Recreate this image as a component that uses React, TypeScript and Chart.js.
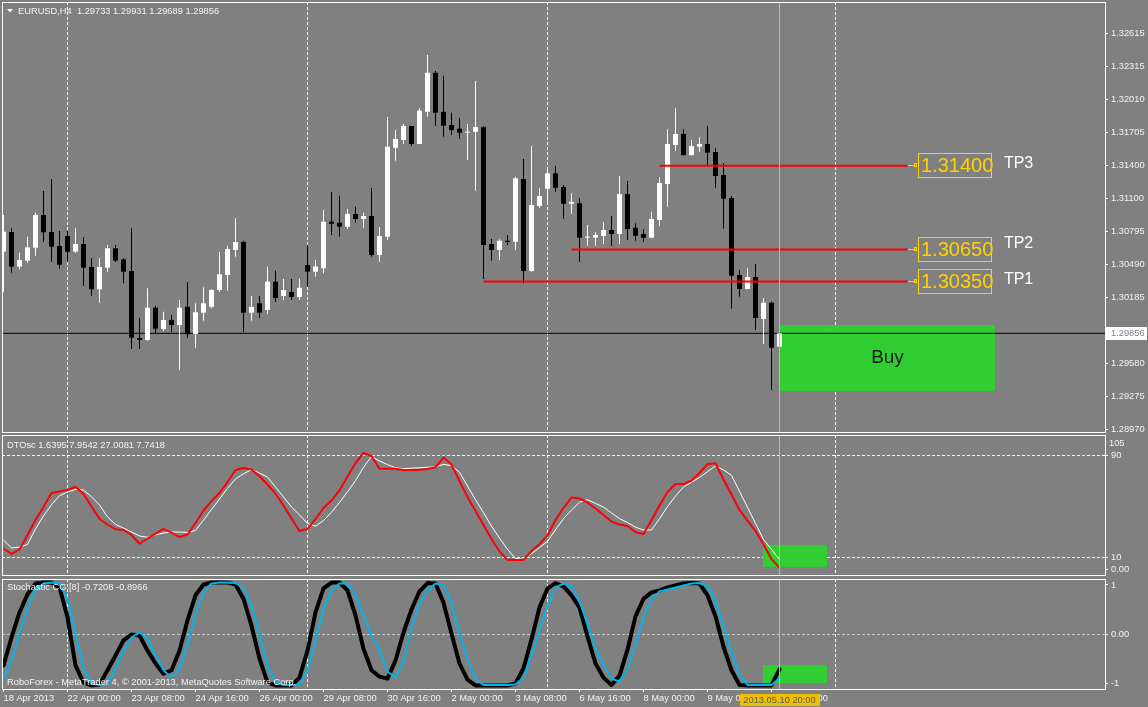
import { useEffect, useRef } from 'react';
import { Chart, registerables } from 'chart.js';

Chart.register(...registerables);

// ---------------- data ----------------
const OPEN = [
  1.30608, 1.30789, 1.30470, 1.30525, 1.30645, 1.30946, 1.30789, 1.30660, 1.30752, 1.30608,
  1.30679, 1.30467, 1.30262, 1.30461, 1.30639, 1.30538, 1.30430, 1.29813, 1.29795, 1.30092,
  1.29896, 1.29979, 1.29933, 1.30101, 1.29850, 1.30046, 1.30101, 1.30255, 1.30393, 1.30624,
  1.30697, 1.30046, 1.30133, 1.30071, 1.30332, 1.30200, 1.30237, 1.30191, 1.30485, 1.30424,
  1.30455, 1.30884, 1.30875, 1.30838, 1.30955, 1.30909, 1.30937, 1.30577, 1.30746, 1.31566,
  1.31637, 1.31766, 1.31600, 1.31897, 1.32256, 1.31897, 1.31775, 1.31741, 1.31704, 1.31713,
  1.31756, 1.30679, 1.30624, 1.30709, 1.30700, 1.31277, 1.30430, 1.31029, 1.31188, 1.31330,
  1.31204, 1.31050, 1.31054, 1.30737, 1.30737, 1.30752, 1.30808, 1.30771, 1.31139, 1.30829,
  1.30771, 1.30737, 1.30900, 1.31231, 1.31591, 1.31692, 1.31498, 1.31575, 1.31600, 1.31526,
  1.31314, 1.31102, 1.30393, 1.30264, 1.30375, 1.29988, 1.30138, 1.29733,
];
const HIGH = [
  1.30946, 1.30823, 1.30599, 1.30746, 1.30967, 1.31167, 1.31277, 1.30798, 1.30798, 1.30823,
  1.30741, 1.30547, 1.30547, 1.30670, 1.30670, 1.30547, 1.30823, 1.29997, 1.30271, 1.30108,
  1.30055, 1.30025, 1.30163, 1.30326, 1.30133, 1.30280, 1.30262, 1.30605, 1.30663, 1.30916,
  1.30709, 1.30200, 1.30200, 1.30470, 1.30433, 1.30356, 1.30356, 1.30359, 1.30670, 1.30531,
  1.30992, 1.31158, 1.31124, 1.31001, 1.31022, 1.30967, 1.31195, 1.30835, 1.31848, 1.31729,
  1.31784, 1.31766, 1.31929, 1.32419, 1.32272, 1.32229, 1.31888, 1.31839, 1.31784, 1.32180,
  1.31766, 1.30725, 1.30722, 1.30762, 1.31299, 1.31462, 1.31581, 1.31192, 1.31360, 1.31397,
  1.31222, 1.31146, 1.31100, 1.30854, 1.30786, 1.30879, 1.30937, 1.31305, 1.31259, 1.30869,
  1.30814, 1.30976, 1.31293, 1.31735, 1.31929, 1.31735, 1.31637, 1.31662, 1.31766, 1.31560,
  1.31422, 1.31121, 1.30439, 1.30455, 1.30495, 1.30181, 1.30147, 1.29931,
];
const LOW = [
  1.30239, 1.30414, 1.30446, 1.30506, 1.30571, 1.30700, 1.30516, 1.30451, 1.30516, 1.30599,
  1.30295, 1.30203, 1.30138, 1.30424, 1.30513, 1.30317, 1.29712, 1.29712, 1.29788, 1.29850,
  1.29878, 1.29871, 1.29518, 1.29816, 1.29724, 1.29972, 1.30087, 1.30239, 1.30249, 1.30562,
  1.29871, 1.29972, 1.29997, 1.30034, 1.30145, 1.30163, 1.30163, 1.30163, 1.30286, 1.30378,
  1.30409, 1.30762, 1.30746, 1.30817, 1.30875, 1.30829, 1.30562, 1.30516, 1.30716, 1.31446,
  1.31600, 1.31584, 1.31600, 1.31851, 1.31768, 1.31667, 1.31683, 1.31649, 1.31452, 1.31170,
  1.30356, 1.30525, 1.30531, 1.30670, 1.30624, 1.30317, 1.30424, 1.31013, 1.31054, 1.31160,
  1.30912, 1.30958, 1.30516, 1.30663, 1.30663, 1.30679, 1.30663, 1.30679, 1.30716, 1.30709,
  1.30700, 1.30737, 1.30845, 1.31022, 1.31535, 1.31492, 1.31492, 1.31529, 1.31397, 1.31197,
  1.30820, 1.30083, 1.30193, 1.30262, 1.29887, 1.29758, 1.29334, 1.29689,
];
const CLOSE = [
  1.30792, 1.30470, 1.30531, 1.30648, 1.30946, 1.30786, 1.30654, 1.30488, 1.30608, 1.30679,
  1.30461, 1.30262, 1.30467, 1.30639, 1.30525, 1.30424, 1.29816, 1.29795, 1.30092, 1.29899,
  1.29979, 1.29933, 1.30092, 1.29847, 1.30050, 1.30133, 1.30255, 1.30400, 1.30633, 1.30697,
  1.30046, 1.30099, 1.30046, 1.30332, 1.30181, 1.30255, 1.30191, 1.30276, 1.30424, 1.30470,
  1.30884, 1.30866, 1.30838, 1.30955, 1.30909, 1.30937, 1.30577, 1.30752, 1.31575, 1.31646,
  1.31766, 1.31600, 1.31907, 1.32256, 1.31888, 1.31768, 1.31729, 1.31704, 1.31713, 1.31756,
  1.30670, 1.30624, 1.30709, 1.30697, 1.31284, 1.30430, 1.31038, 1.31121, 1.31330, 1.31197,
  1.31050, 1.31066, 1.30737, 1.30746, 1.30762, 1.30808, 1.30771, 1.31139, 1.30817, 1.30755,
  1.30737, 1.30909, 1.31241, 1.31600, 1.31692, 1.31498, 1.31581, 1.31600, 1.31520, 1.31305,
  1.31096, 1.30387, 1.30264, 1.30375, 1.29997, 1.30138, 1.29724, 1.29856,
];

const DTO_MAIN = [
  16.7, 12.4, 15.9, 27.3, 39, 49.2, 60.2, 61.4, 62.5, 65.1,
  59.4, 49.6, 39.8, 35.5, 31.7, 31.2, 27.3, 20.4, 24.5, 28.4,
  32.1, 29.2, 25.7, 27.6, 36.7, 46.5, 53.9, 60.2, 68.8, 78.2,
  79.8, 78.6, 73.5, 66.9, 59.8, 50.4, 40.2, 30.4, 32, 39.8,
  48.4, 54.3, 62.2, 73.1, 83.7, 91.6, 89.2, 79.3, 79.3, 79.3,
  78.2, 78.2, 78.2, 79, 80.4, 88, 82.5, 69.6, 57.1, 46.1,
  35.1, 24.1, 14.3, 7.6, 7.6, 7.6, 14.7, 20.2, 26.9, 39,
  48.4, 56.7, 55.9, 52.7, 48, 42.9, 37.8, 35.5, 34.3, 29.6,
  28, 39, 50.4, 61, 67.3, 67.3, 70, 75.9, 82.9, 83.5,
  70.8, 59, 46.9, 38.6, 30.4, 19.8, 8.4, 1.64,
];
const DTO_SIGNAL = [
  23.3, 17.1, 17.8, 19.8, 32, 42.2, 51, 58.1, 61, 63,
  62.5, 57.3, 50.8, 41.4, 35.6, 32.7, 29.6, 26.5, 25.5, 27.4,
  28.8, 29.6, 29.6, 29.3, 30.8, 39, 47.2, 55.5, 63.8, 71.3,
  75.3, 78.5, 75.8, 72.7, 64.9, 57.1, 49.2, 43, 36.4, 34.2,
  38.6, 45.1, 52.8, 61.1, 69.9, 80.4, 88.8, 85.3, 82.5, 80,
  79.3, 79.7, 80, 80.4, 80.8, 82.6, 81.8, 76.5, 65.7, 55.1,
  44.7, 34.3, 24.8, 16, 8.8, 8.2, 12.7, 17.4, 22.3, 31.3,
  40.1, 46.8, 53, 54.9, 52.1, 49.1, 44.6, 40.1, 37.1, 33.4,
  31.2, 31.2, 40, 49.5, 57.8, 64.9, 68.7, 72.4, 76.9, 81.4,
  78.3, 74.1, 61.5, 49, 36.4, 23.8, 16, 7.95,
];
const STOCH_MAIN = [
  -0.64, -0.07, 0.44, 0.81, 1.03, 1.05, 1.05, 0.95, 0.34, -0.64,
  -0.99, -1.05, -1.03, -0.74, -0.44, -0.13, -0.01, -0.03, -0.34, -0.6,
  -0.81, -0.74, -0.34, 0.28, 0.79, 1.01, 1.05, 1.05, 1.05, 1.01,
  0.72, 0.17, -0.5, -0.99, -1.05, -1.05, -1.05, -0.89, -0.34, 0.44,
  0.93, 1.05, 1.05, 0.89, 0.38, -0.3, -0.74, -0.87, -0.91, -0.54,
  0.03, 0.5, 0.87, 1.04, 1.03, 0.64, 0.01, -0.6, -0.93, -1.05,
  -1.05, -1.05, -1.05, -1.05, -1.01, -0.7, -0.11, 0.54, 0.93, 1.04,
  0.97, 0.79, 0.54, -0.05, -0.6, -0.89, -1.04, -0.85, -0.32, 0.36,
  0.72, 0.85, 0.89, 0.95, 0.99, 1.03, 1.04, 1.03, 0.79, 0.36,
  -0.26, -0.74, -1.04, -1.05, -1.05, -1.05, -1.05, -0.72,
];
const STOCH_SIGNAL = [
  -0.91, -0.54, 0.01, 0.54, 0.89, 1.03, 1.05, 1.03, 0.72, 0.01,
  -0.7, -1.01, -1.04, -1.03, -0.7, -0.34, -0.07, 0.03, -0.09, -0.44,
  -0.74, -0.89, -0.7, -0.23, 0.42, 0.85, 1.03, 1.05, 1.05, 1.04,
  0.93, 0.58, -0.03, -0.64, -0.99, -1.04, -1.04, -1.04, -0.74, -0.13,
  0.52, 0.89, 1.03, 1.03, 0.79, 0.38, -0.05, -0.32, -0.77, -0.89,
  -0.56, 0.13, 0.62, 0.89, 1.03, 0.99, 0.64, 0.01, -0.5, -0.91,
  -1.04, -1.04, -1.04, -1.04, -1.03, -0.89, -0.44, 0.07, 0.56, 0.95,
  1.03, 0.97, 0.66, 0.21, -0.28, -0.64, -0.91, -0.97, -0.72, -0.23,
  0.34, 0.72, 0.87, 0.91, 0.95, 0.99, 1.03, 1.04, 0.97, 0.68,
  0.17, -0.38, -0.85, -1.04, -1.04, -1.04, -1.04, -0.9,
];

const TIME_LABELS = [
  '18 Apr 2013', '22 Apr 00:00', '23 Apr 08:00', '24 Apr 16:00', '26 Apr 00:00', '29 Apr 08:00',
  '30 Apr 16:00', '2 May 00:00', '3 May 08:00', '6 May 16:00', '8 May 00:00', '9 May 08:00', '10 May 16:00',
];
const TIME_LABEL_BARS = [0, 8, 16, 24, 32, 40, 48, 56, 64, 72, 80, 88, 96];
const GRID_BARS = [8, 38, 68, 104];
const PRICE_TICKS = [
  1.32615, 1.32315, 1.3201, 1.31705, 1.314, 1.311, 1.30795, 1.3049, 1.30185, 1.2988, 1.2958, 1.29275, 1.2897,
];
const LAST_PRICE = 1.29856;
const DTO_TICKS = [90, 10, 0];
const DTO_LEVELS = [90, 10];
const STOCH_TICKS = [1, 0, -1];

const TP_NAMES = ['TP1', 'TP2', 'TP3'];
const TP_TEXT = ['1.30350', '1.30650', '1.31400'];
const TP_LINE_LEVELS = [1.30333, 1.30628, 1.314];
const TP_TAG_LEVELS = [1.30347, 1.30685, 1.31422];
const TP_START_BARS = [60, 71, 82];
const TP_END_BAR = 113;
const TP_BOX_BAR = 114.35;
const TP_TAG_BAR = 125.05;

const BUY_ZONE = { fromBar: 97.06, toBar: 123.94, top: 1.29931, bottom: 1.29325 };
const DTO_ZONE = { fromBar: 94.9, toBar: 102.9, top: 19.4, bottom: 2.2 };
const STOCH_ZONE = { fromBar: 94.9, toBar: 102.9, top: -0.633, bottom: -1.006 };
const CURSOR_BAR = 97;
const CURSOR_TEXT = '2013.05.10 20:00';

const HEADER_MAIN = 'EURUSD,H4  1.29733 1.29931 1.29689 1.29856';
const HEADER_DTO = 'DTOsc 1.6395 7.9542 27.0081 7.7418';
const HEADER_STOCH = 'Stochastic CG [8] -0.7208 -0.8966';
const COPYRIGHT = 'RoboForex - MetaTrader 4, \u00A9 2001-2013, MetaQuotes Software Corp.';

// ---------------- ranges & styles ----------------
const X_MIN = -0.1875;
const X_MAX = 137.6875;
const PRICE_MIN = 1.28947;
const PRICE_MAX = 1.32908;
const DTO_MIN = -4.1;
const DTO_MAX = 105.7;
const STOCH_MIN = -1.1224;
const STOCH_MAX = 1.1224;

const UI_FONT = "'Liberation Sans', Arial, sans-serif";
const UI_SIZE = 9.3;
const TEXT_COLOR = '#F2F2F2';
const GOLD = '#FFD200';
const CURSOR_COLOR = '#F0C000';
const ZONE_GREEN = '#32CD32';

function drawText(ctx: any, str: string, x: number, y: number, color: string, size: number, align: string = 'left') {
  ctx.save();
  ctx.font = `${size}px ${UI_FONT}`;
  ctx.fillStyle = color;
  ctx.textAlign = align;
  ctx.textBaseline = 'middle';
  ctx.fillText(str, x, y);
  ctx.restore();
}

function drawFrame(chart: any) {
  const { ctx, chartArea: a } = chart;
  ctx.save();
  ctx.strokeStyle = '#FFFFFF';
  ctx.lineWidth = 1;
  ctx.strokeRect(a.left + 0.5, a.top + 0.5, a.right - a.left, a.bottom - a.top);
  ctx.restore();
}

function drawCursor(chart: any) {
  const { ctx, chartArea: a } = chart;
  const x = Math.floor(chart.scales.x.getPixelForValue(CURSOR_BAR));
  ctx.save();
  ctx.fillStyle = CURSOR_COLOR;
  ctx.fillRect(x, a.top, 1, a.bottom - a.top);
  ctx.restore();
}

function fillZone(chart: any, zone: any) {
  const { ctx } = chart;
  const xs = chart.scales.x;
  const ys = chart.scales.y;
  const x0 = Math.round(xs.getPixelForValue(zone.fromBar));
  const x1 = Math.round(xs.getPixelForValue(zone.toBar));
  const y0 = Math.round(ys.getPixelForValue(zone.top));
  const y1 = Math.round(ys.getPixelForValue(zone.bottom));
  ctx.save();
  ctx.fillStyle = ZONE_GREEN;
  ctx.fillRect(x0, y0, x1 - x0, y1 - y0);
  ctx.restore();
}

function xScales(showLabels: boolean) {
  return {
    x: {
      type: 'linear',
      position: 'bottom',
      min: X_MIN,
      max: X_MAX,
      offset: false,
      display: showLabels,
      afterBuildTicks: (s: any) => {
        s.ticks = TIME_LABEL_BARS.map((v) => ({ value: v }));
      },
      ticks: {
        autoSkip: false,
        maxRotation: 0,
        minRotation: 0,
        align: 'start',
        padding: 1,
        color: TEXT_COLOR,
        font: { family: UI_FONT, size: UI_SIZE },
        callback: (_v: any, i: number) => TIME_LABELS[i],
      },
      grid: { offset: false, drawOnChartArea: false, drawTicks: true, tickLength: 3, color: '#FFFFFF' },
      border: { display: false },
      afterFit: (s: any) => {
        s.height = showLabels ? 18 : 0;
        s.paddingLeft = 0;
        s.paddingRight = 0;
      },
    },
    xg: {
      type: 'linear',
      position: 'top',
      min: X_MIN,
      max: X_MAX,
      offset: false,
      afterBuildTicks: (s: any) => {
        s.ticks = GRID_BARS.map((v) => ({ value: v }));
      },
      ticks: { display: false },
      grid: { offset: false, color: '#FFFFFF', drawTicks: false, lineWidth: 1 },
      border: { display: false, dash: [3, 2] },
      afterFit: (s: any) => {
        s.height = 0;
        s.paddingLeft = 0;
        s.paddingRight = 0;
      },
    },
  };
}

function yScale(min: number, max: number, ticks: number[], fmt: (v: number) => string, gridColor: any, onArea: boolean, dash: number[]) {
  return {
    type: 'linear',
    position: 'right',
    min,
    max,
    afterBuildTicks: (s: any) => {
      s.ticks = ticks.map((v) => ({ value: v }));
    },
    ticks: {
      padding: 3,
      color: TEXT_COLOR,
      font: { family: UI_FONT, size: UI_SIZE },
      callback: (v: any) => fmt(Number(v)),
    },
    grid: { drawOnChartArea: onArea, tickLength: 3, color: gridColor, tickColor: '#FFFFFF', lineWidth: 1 },
    border: { display: false, dash },
    afterFit: (s: any) => {
      s.width = 43;
      s.paddingTop = 0;
      s.paddingBottom = 0;
    },
  };
}

const baseOptions = {
  responsive: false,
  animation: false,
  devicePixelRatio: 1,
  events: [],
  plugins: { legend: { display: false }, tooltip: { enabled: false } },
};

function hLine(fromX: number, toX: number, y: number) {
  return [
    { x: fromX, y },
    { x: toX, y },
  ];
}

// ---------------- main panel ----------------
function mainConfig(): any {
  const colors = CLOSE.map((c, i) => (c >= OPEN[i] ? '#FFFFFF' : '#000000'));
  const overlay = {
    id: 'mainOverlay',
    beforeDatasetsDraw(chart: any) {
      fillZone(chart, BUY_ZONE);
    },
    afterDatasetsDraw(chart: any) {
      const { ctx } = chart;
      const xs = chart.scales.x;
      const ys = chart.scales.y;
      const x0 = xs.getPixelForValue(BUY_ZONE.fromBar);
      const x1 = xs.getPixelForValue(BUY_ZONE.toBar);
      const y0 = ys.getPixelForValue(BUY_ZONE.top);
      const y1 = ys.getPixelForValue(BUY_ZONE.bottom);
      drawText(ctx, 'Buy', (x0 + x1) / 2, (y0 + y1) / 2, '#1C1C1C', 19, 'center');

      const xe = Math.round(xs.getPixelForValue(TP_END_BAR));
      const xb = Math.round(xs.getPixelForValue(TP_BOX_BAR));
      TP_LINE_LEVELS.forEach((lvl, k) => {
        const yl = Math.round(ys.getPixelForValue(lvl));
        ctx.save();
        ctx.fillStyle = GOLD;
        ctx.fillRect(xe, yl - 1, xb - 3 - xe, 1);
        ctx.strokeStyle = GOLD;
        ctx.lineWidth = 1;
        ctx.strokeRect(xb - 3.5, yl - 2.5, 2, 3);
        ctx.strokeRect(xb + 0.5, yl - 12.5, 73, 24);
        ctx.restore();
        drawText(ctx, TP_TEXT[k], xb + 3, yl, GOLD, 20, 'left');
        drawText(ctx, TP_NAMES[k], xs.getPixelForValue(TP_TAG_BAR), ys.getPixelForValue(TP_TAG_LEVELS[k]), '#FFFFFF', 16, 'left');
      });
      drawCursor(chart);
    },
    afterDraw(chart: any) {
      const { ctx, chartArea: a } = chart;
      drawFrame(chart);
      ctx.save();
      ctx.fillStyle = '#FFFFFF';
      ctx.beginPath();
      ctx.moveTo(7, 9);
      ctx.lineTo(13, 9);
      ctx.lineTo(10, 12.5);
      ctx.closePath();
      ctx.fill();
      ctx.restore();
      drawText(ctx, HEADER_MAIN, 18, 11, TEXT_COLOR, UI_SIZE, 'left');
      const yp = Math.round(chart.scales.y.getPixelForValue(LAST_PRICE));
      ctx.save();
      ctx.fillStyle = '#FFFFFF';
      ctx.fillRect(a.right + 1, yp - 6, 41, 13);
      ctx.restore();
      drawText(ctx, LAST_PRICE.toFixed(5), a.right + 6, yp + 0.5, '#7A7A8A', UI_SIZE, 'left');
    },
  };

  const datasets: any[] = [
    {
      type: 'line',
      data: hLine(X_MIN, X_MAX, LAST_PRICE),
      borderColor: '#000000',
      borderWidth: 1,
      pointRadius: 0,
      order: 6,
    },
    {
      type: 'bar',
      data: LOW.map((l, i) => ({ x: i, y: [l, HIGH[i]] })),
      backgroundColor: colors,
      barThickness: 1,
      grouped: false,
      inflateAmount: 0,
      borderWidth: 0,
      order: 5,
    },
    {
      type: 'bar',
      data: OPEN.map((o, i) => ({ x: i, y: [o, CLOSE[i]] })),
      backgroundColor: colors,
      barThickness: 5,
      minBarLength: 1,
      grouped: false,
      inflateAmount: 0,
      borderWidth: 0,
      order: 4,
    },
  ];
  TP_LINE_LEVELS.forEach((lvl, k) => {
    datasets.push({
      type: 'line',
      data: hLine(TP_START_BARS[k], TP_END_BAR, lvl),
      borderColor: '#FF0000',
      borderWidth: 2,
      pointRadius: 0,
      order: 1,
    });
  });

  return {
    type: 'bar',
    data: { datasets },
    options: {
      ...baseOptions,
      layout: { padding: { left: 2, top: 2, right: 0, bottom: 1 } },
      scales: {
        ...xScales(false),
        y: yScale(PRICE_MIN, PRICE_MAX, PRICE_TICKS, (v) => v.toFixed(5), 'rgba(0,0,0,0)', false, []),
      },
    },
    plugins: [overlay],
  };
}

// ---------------- DTOsc panel ----------------
function dtoConfig(): any {
  const overlay = {
    id: 'dtoOverlay',
    beforeDatasetsDraw(chart: any) {
      fillZone(chart, DTO_ZONE);
    },
    afterDatasetsDraw(chart: any) {
      drawCursor(chart);
    },
    afterDraw(chart: any) {
      const { ctx, chartArea: a } = chart;
      drawFrame(chart);
      drawText(ctx, HEADER_DTO, 7, 12, TEXT_COLOR, UI_SIZE, 'left');
      drawText(ctx, '105', a.right + 4, 10, TEXT_COLOR, UI_SIZE, 'left');
    },
  };
  const line = (data: number[], color: string, width: number, order: number) => ({
    type: 'line',
    data: data.map((v, i) => ({ x: i, y: v })),
    borderColor: color,
    borderWidth: width,
    pointRadius: 0,
    tension: 0,
    borderJoinStyle: 'round',
    order,
  });
  return {
    type: 'line',
    data: {
      datasets: [line(DTO_MAIN, '#FF0000', 2, 1), line(DTO_SIGNAL, '#FFFFFF', 1, 2)],
    },
    options: {
      ...baseOptions,
      layout: { padding: { left: 2, top: 2, right: 0, bottom: 2 } },
      scales: {
        ...xScales(false),
        y: yScale(
          DTO_MIN,
          DTO_MAX,
          DTO_TICKS,
          (v) => (v === 0 ? '0.00' : String(v)),
          (c: any) => (c.tick && DTO_LEVELS.includes(c.tick.value) ? '#FFFFFF' : 'rgba(0,0,0,0)'),
          true,
          [3, 2]
        ),
      },
    },
    plugins: [overlay],
  };
}

// ---------------- Stochastic CG panel ----------------
function stochConfig(): any {
  const overlay = {
    id: 'stochOverlay',
    beforeDatasetsDraw(chart: any) {
      fillZone(chart, STOCH_ZONE);
    },
    afterDatasetsDraw(chart: any) {
      drawCursor(chart);
    },
    afterDraw(chart: any) {
      const { ctx, chartArea: a } = chart;
      drawFrame(chart);
      drawText(ctx, HEADER_STOCH, 7, 10.5, TEXT_COLOR, UI_SIZE, 'left');
      drawText(ctx, COPYRIGHT, 7, a.bottom - 7, TEXT_COLOR, UI_SIZE, 'left');
      const xc = chart.scales.x.getPixelForValue(CURSOR_BAR);
      ctx.save();
      ctx.fillStyle = CURSOR_COLOR;
      ctx.fillRect(Math.round(xc - 40), a.bottom + 5, 80, 12);
      ctx.restore();
      drawText(ctx, CURSOR_TEXT, xc, a.bottom + 11, '#5A5A5A', UI_SIZE, 'center');
    },
  };
  const line = (data: number[], color: string, width: number, order: number) => ({
    type: 'line',
    data: data.map((v, i) => ({ x: i, y: v })),
    borderColor: color,
    borderWidth: width,
    pointRadius: 0,
    tension: 0,
    borderJoinStyle: 'round',
    borderCapStyle: 'round',
    order,
  });
  return {
    type: 'line',
    data: {
      datasets: [line(STOCH_SIGNAL, '#00B4F0', 2, 1), line(STOCH_MAIN, '#000000', 4, 2)],
    },
    options: {
      ...baseOptions,
      layout: { padding: { left: 2, top: 2, right: 0, bottom: 0 } },
      scales: {
        ...xScales(true),
        y: yScale(
          STOCH_MIN,
          STOCH_MAX,
          STOCH_TICKS,
          (v) => (v === 0 ? '0.00' : String(v)),
          (c: any) => (c.tick && c.tick.value === 0 ? '#C8C8C8' : 'rgba(0,0,0,0)'),
          true,
          [3, 2]
        ),
      },
    },
    plugins: [overlay],
  };
}

export default function App() {
  const mainRef = useRef<HTMLCanvasElement>(null);
  const dtoRef = useRef<HTMLCanvasElement>(null);
  const stochRef = useRef<HTMLCanvasElement>(null);

  useEffect(() => {
    const charts = [
      new Chart(mainRef.current as HTMLCanvasElement, mainConfig()),
      new Chart(dtoRef.current as HTMLCanvasElement, dtoConfig()),
      new Chart(stochRef.current as HTMLCanvasElement, stochConfig()),
    ];
    return () => charts.forEach((c) => c.destroy());
  }, []);

  return (
    <div
      style={{
        position: 'fixed',
        left: 0,
        top: 0,
        width: 1148,
        height: 707,
        background: '#808080',
        overflow: 'hidden',
      }}
    >
      <canvas ref={mainRef} width={1148} height={433} style={{ position: 'absolute', left: 0, top: 0 }} />
      <canvas ref={dtoRef} width={1148} height={144} style={{ position: 'absolute', left: 0, top: 433 }} />
      <canvas ref={stochRef} width={1148} height={130} style={{ position: 'absolute', left: 0, top: 577 }} />
    </div>
  );
}
